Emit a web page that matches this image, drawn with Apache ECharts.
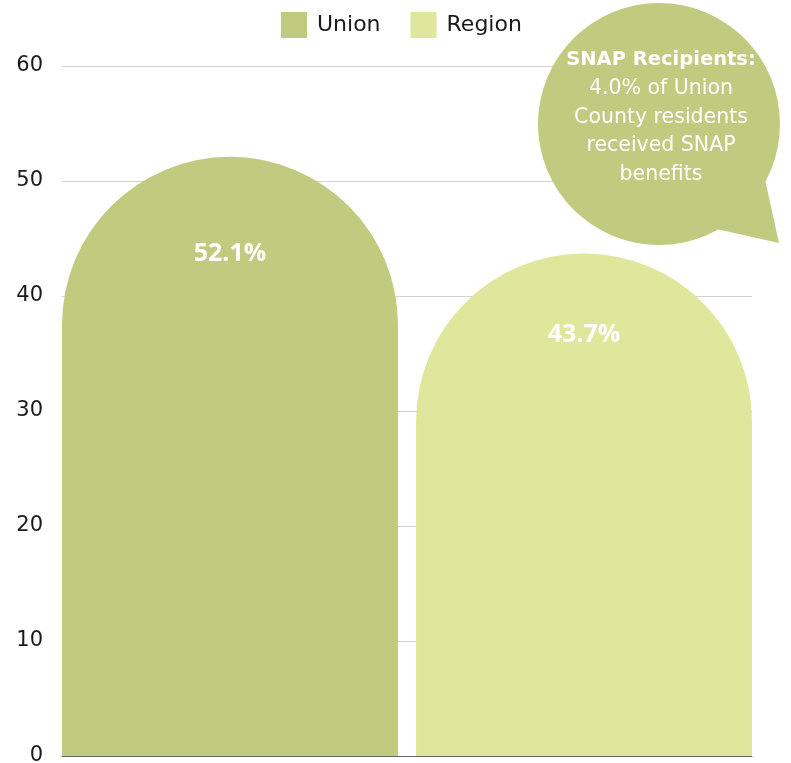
<!DOCTYPE html>
<html>
<head>
<meta charset="utf-8">
<script src="https://cdn.jsdelivr.net/npm/echarts@6/dist/echarts.min.js"></script>
<style>
html,body{margin:0;padding:0;background:#fff;}
#main{width:791px;height:763px;}
</style>
</head>
<body>
<div id="main"></div>
<script>
const categories = ['SNAP'];
const seriesNames = ['Union', 'Region'];
const unionValues = [52.1];
const regionValues = [43.7];
const yTicks = [0, 10, 20, 30, 40, 50, 60];
const calloutTitle = 'SNAP Recipients:';
const calloutLines = ['4.0% of Union', 'County residents', 'received SNAP', 'benefits'];

const FONT = 'DejaVu Sans';
const LABEL_FONT = 'Open Sans';
const chart = echarts.init(document.getElementById('main'), null, {renderer: 'canvas'});

const option = {
  animation: false,
  backgroundColor: '#ffffff',
  textStyle: {fontFamily: FONT},
  legend: {
    data: seriesNames,
    left: 281,
    top: 12,
    padding: 0,
    itemWidth: 26,
    itemHeight: 26,
    itemGap: 30,
    icon: 'rect',
    textStyle: {fontSize: 22, color: '#1a1a1a', fontFamily: FONT, padding: [0, 0, 0, 5]}
  },
  grid: {left: 62, right: 39, top: 66, bottom: 7, containLabel: false, outerBoundsMode: 'none'},
  xAxis: {
    type: 'category',
    data: categories,
    axisLine: {show: true, lineStyle: {color: '#666666', width: 1}},
    axisTick: {show: false},
    axisLabel: {show: false}
  },
  yAxis: {
    type: 'value',
    min: yTicks[0],
    max: yTicks[yTicks.length - 1],
    interval: 10,
    axisLine: {show: false},
    axisTick: {show: false},
    axisLabel: {fontSize: 21, color: '#1a1a1a', margin: 19, fontFamily: FONT},
    splitLine: {lineStyle: {color: '#d2d2d2', width: 1}}
  },
  series: [
    {
      name: seriesNames[0],
      type: 'bar',
      data: unionValues,
      barWidth: 336,
      barGap: '5.4%',
      itemStyle: {color: '#c1cb80', borderRadius: [999, 999, 0, 0]},
      label: {
        show: true, position: 'insideTop', distance: 85,
        formatter: p => p.value + '%',
        color: '#ffffff', fontSize: 25, fontWeight: 'bold', fontFamily: LABEL_FONT
      }
    },
    {
      name: seriesNames[1],
      type: 'bar',
      data: regionValues,
      barWidth: 336,
      itemStyle: {color: '#dee79c', borderRadius: [999, 999, 0, 0]},
      label: {
        show: true, position: 'insideTop', distance: 69,
        formatter: p => p.value + '%',
        color: '#ffffff', fontSize: 25, fontWeight: 'bold', fontFamily: LABEL_FONT
      }
    }
  ],
  graphic: [
    {type: 'circle', z: 100, zlevel: 1, shape: {cx: 659, cy: 124, r: 121}, style: {fill: '#c1cb80'}},
    {type: 'polygon', z: 100, zlevel: 1, shape: {points: [[764, 175], [779, 243], [712, 228]]}, style: {fill: '#c1cb80'}},
    {
      type: 'text', z: 101, zlevel: 1, x: 661, y: 60,
      style: {text: calloutTitle, fill: '#ffffff', fontSize: 19.5, fontWeight: 'bold', fontFamily: FONT,
              align: 'center', verticalAlign: 'middle'}
    },
    {
      type: 'text', z: 101, zlevel: 1, x: 661, y: 74.5,
      style: {text: calloutLines.join('\n'), fill: '#ffffff', fontSize: 20.5, fontFamily: FONT,
              lineHeight: 28.5, align: 'center', verticalAlign: 'top'}
    }
  ]
};
chart.setOption(option);
</script>
</body>
</html>
